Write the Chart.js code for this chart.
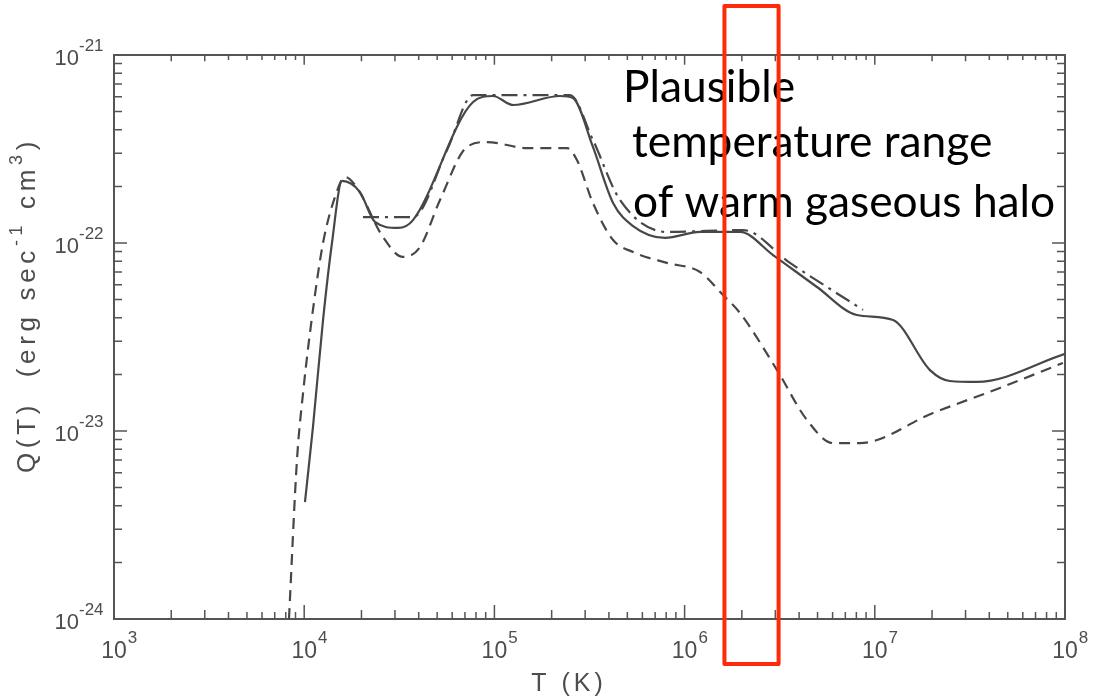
<!DOCTYPE html>
<html>
<head>
<meta charset="utf-8">
<script src="https://cdn.jsdelivr.net/npm/chart.js@4/dist/chart.umd.min.js"></script>
<style>
  html, body { margin: 0; padding: 0; background: #ffffff; }
  #wrap { width: 1093px; height: 696px; position: relative; }
</style>
</head>
<body>
<div id="wrap"><canvas id="c" width="1093" height="696"></canvas></div>
<script>
// ---- Data (log10 values) ----
// Solid curve
const solidLogT = [4.004, 4.046, 4.099, 4.146, 4.199, 4.293, 4.372, 4.493, 4.572, 4.888, 4.993, 5.098, 5.345, 5.413, 5.518, 5.624, 5.729, 5.897, 6.081, 6.291, 6.465, 6.696, 6.906, 7.096, 7.290, 7.395, 7.537, 8.000];
const solidLogQ = [-23.378, -22.979, -22.410, -22.000, -21.670, -21.729, -21.888, -21.920, -21.878, -21.250, -21.218, -21.266, -21.218, -21.229, -21.489, -21.787, -21.910, -21.973, -21.941, -21.941, -22.064, -22.234, -22.383, -22.410, -22.676, -22.734, -22.739, -22.590];
// Dashed curve
const dashedLogT = [3.920, 3.962, 3.994, 4.046, 4.099, 4.162, 4.215, 4.278, 4.414, 4.519, 4.609, 4.714, 4.856, 4.961, 5.171, 5.382, 5.434, 5.518, 5.624, 5.729, 5.907, 6.081, 6.202, 6.291, 6.486, 6.643, 6.780, 6.922, 7.306, 7.658, 7.989];
const dashedLogQ = [-24.000, -23.154, -22.798, -22.356, -22.000, -21.755, -21.649, -21.707, -21.968, -22.074, -22.021, -21.771, -21.489, -21.463, -21.495, -21.495, -21.559, -21.787, -21.984, -22.048, -22.106, -22.154, -22.277, -22.372, -22.676, -22.941, -23.064, -23.064, -22.904, -22.771, -22.638];
// Dash-dot curve
const dashDotLogT = [4.309, 4.572, 4.751, 4.888, 5.397, 5.518, 5.660, 5.907, 6.307, 6.554, 6.938];
const dashDotLogQ = [-21.862, -21.862, -21.505, -21.213, -21.213, -21.452, -21.771, -21.941, -21.931, -22.106, -22.356];

// Axis tick decades
const xTickExps = [3, 4, 5, 6, 7, 8];
const yTickExps = [-24, -23, -22, -21];
// Highlighted temperature range (K)
const rangeT = [1.62e6, 3.12e6];
const noteLines = ["Plausible", " temperature range", " of warm gaseous halo"];

function pts(lx, ly) { return lx.map((t, i) => ({ x: Math.pow(10, t), y: Math.pow(10, ly[i]) })); }

const INK = '#474747';
const LBL = '"Liberation Sans", Arial, sans-serif';

const decorPlugin = {
  id: 'decor',
  beforeDatasetsDraw(chart) {
    const { ctx, chartArea: a, scales: { x, y } } = chart;
    ctx.save();
    ctx.strokeStyle = '#555';
    ctx.lineWidth = 2;
    ctx.strokeRect(a.left, a.top, a.right - a.left, a.bottom - a.top);
    ctx.lineWidth = 1.5;
    ctx.beginPath();
    // x ticks (bottom up, top down)
    for (let d = xTickExps[0]; d < xTickExps[xTickExps.length - 1]; d++) {
      for (let m = 1; m <= 9; m++) {
        if (m === 1 && d === xTickExps[0]) continue;
        const px = x.getPixelForValue(m * Math.pow(10, d));
        const len = m === 1 ? 14 : (m <= 3 ? 9 : 7);
        ctx.moveTo(px, a.bottom); ctx.lineTo(px, a.bottom - len);
        ctx.moveTo(px, a.top); ctx.lineTo(px, a.top + len * 0.7);
      }
    }
    // y ticks (left right, right left)
    for (let d = yTickExps[0]; d < yTickExps[yTickExps.length - 1]; d++) {
      for (let m = 1; m <= 9; m++) {
        if (m === 1 && d === yTickExps[0]) continue;
        const py = y.getPixelForValue(m * Math.pow(10, d));
        const len = m === 1 ? 13 : 8;
        ctx.moveTo(a.left, py); ctx.lineTo(a.left + len, py);
        ctx.moveTo(a.right, py); ctx.lineTo(a.right - len, py);
      }
    }
    ctx.stroke();

    // tick labels
    ctx.fillStyle = '#4d4d4d';
    ctx.textBaseline = 'alphabetic';
    xTickExps.forEach(e => {
      const px = x.getPixelForValue(Math.pow(10, e));
      ctx.font = '23px ' + LBL;
      const w = ctx.measureText('10').width;
      ctx.textAlign = 'center';
      ctx.fillText('10', px, a.bottom + 39);
      ctx.font = '17px ' + LBL;
      ctx.textAlign = 'left';
      ctx.fillText(String(e), px + w / 2 + 1, a.bottom + 24);
    });
    yTickExps.forEach(e => {
      const py = y.getPixelForValue(Math.pow(10, e));
      ctx.font = '22px ' + LBL;
      ctx.textAlign = 'right';
      ctx.fillText('10', 79, py + 10);
      ctx.font = '17px ' + LBL;
      ctx.textAlign = 'left';
      ctx.fillText(String(e), 79, py - 4);
    });

    // x title
    ctx.font = '25px ' + LBL;
    ctx.textAlign = 'center';
    ctx.letterSpacing = '4px';
    ctx.fillText('T (K)', 569, 691);

    // y title (rotated), fitted to the reference span
    ctx.translate(35, 305);
    ctx.rotate(-Math.PI / 2);
    ctx.letterSpacing = '0px';
    const parts = [['Q(T)  (erg sec', 0], ['-1', 1], [' cm', 0], ['3', 1], [')', 0]];
    let total = 0, nch = 0;
    parts.forEach(p => {
      ctx.font = (p[1] ? '18px ' : '26px ') + LBL;
      total += ctx.measureText(p[0]).width;
      nch += p[0].length;
    });
    const sp = (336 - total) / nch;
    ctx.letterSpacing = sp.toFixed(2) + 'px';
    let cx = -168;
    ctx.textAlign = 'left';
    parts.forEach(p => {
      ctx.font = (p[1] ? '18px ' : '26px ') + LBL;
      ctx.fillText(p[0], cx, p[1] ? -13 : 0);
      cx += ctx.measureText(p[0]).width;
    });
    ctx.restore();
  },
  afterDraw(chart) {
    const { ctx, scales: { x } } = chart;
    ctx.save();
    // annotation text
    ctx.fillStyle = '#000';
    ctx.textAlign = 'left';
    ctx.textBaseline = 'alphabetic';
    let fs = 40;
    ctx.font = fs + 'px Lato, "Open Sans", sans-serif';
    const w = ctx.measureText(noteLines[2].trim()).width;
    fs = fs * 422 / w;
    ctx.font = fs.toFixed(1) + 'px Lato, "Open Sans", sans-serif';
    ctx.fillText(noteLines[0], 623, 102);
    ctx.fillText(noteLines[1].trim(), 632, 157);
    ctx.fillText(noteLines[2].trim(), 633, 217);
    // red range box
    const x0 = x.getPixelForValue(rangeT[0]);
    const x1 = x.getPixelForValue(rangeT[1]);
    ctx.strokeStyle = '#ff2a0a';
    ctx.lineWidth = 4;
    ctx.lineJoin = 'round';
    ctx.strokeRect(x0, 6, x1 - x0, 658);
    ctx.restore();
  }
};

new Chart(document.getElementById('c'), {
  type: 'line',
  data: {
    datasets: [
      { label: 'solid', data: pts(solidLogT, solidLogQ), borderColor: INK, borderWidth: 2.2, pointRadius: 0, cubicInterpolationMode: 'monotone', fill: false },
      { label: 'dashed', data: pts(dashedLogT, dashedLogQ), borderColor: INK, borderWidth: 2.2, borderDash: [11, 7], pointRadius: 0, cubicInterpolationMode: 'monotone', fill: false },
      { label: 'dash-dot', data: pts(dashDotLogT, dashDotLogQ), borderColor: INK, borderWidth: 2.2, borderDash: [16, 6, 3, 6], pointRadius: 0, cubicInterpolationMode: 'monotone', fill: false }
    ]
  },
  options: {
    responsive: false,
    animation: false,
    layout: { padding: { left: 114, right: 28, top: 55, bottom: 77 } },
    plugins: { legend: { display: false }, tooltip: { enabled: false } },
    scales: {
      x: { type: 'logarithmic', min: 1e3, max: 1e8, display: false },
      y: { type: 'logarithmic', min: 1e-24, max: 1e-21, display: false }
    }
  },
  plugins: [decorPlugin]
});
</script>
</body>
</html>
